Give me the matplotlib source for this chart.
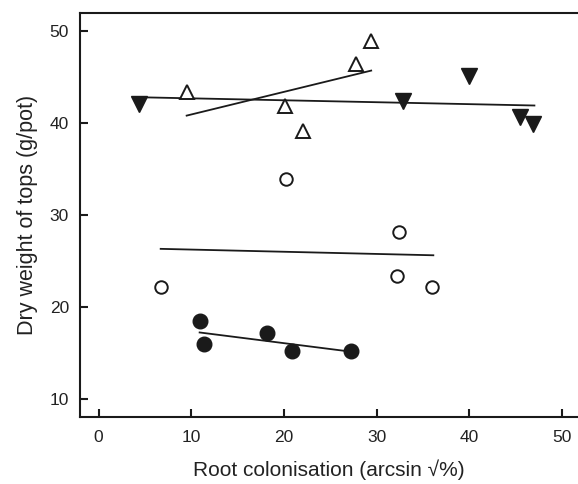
import numpy as np
import matplotlib.pyplot as plt

plt.rcParams['font.family'] = ['Liberation Sans', 'DejaVu Sans']

# filled down-triangles
tri_down_x = [4.4, 32.8, 40.0, 45.4, 46.9]
tri_down_y = [42.1, 42.4, 45.1, 40.7, 39.9]
tri_down_line_x = [4.3, 47.0]
tri_down_line_y = [42.8, 41.9]

# open up-triangles
tri_up_x = [9.5, 20.1, 22.1, 27.8, 29.4]
tri_up_y = [43.4, 41.8, 39.1, 46.4, 48.9]
tri_up_line_x = [9.5, 29.4]
tri_up_line_y = [40.8, 45.7]

# open circles
circ_open_x = [6.7, 20.2, 32.2, 32.4, 36.0]
circ_open_y = [22.2, 33.9, 23.3, 28.1, 22.1]
circ_open_line_x = [6.7, 36.1]
circ_open_line_y = [26.3, 25.6]

# filled circles
circ_fill_x = [10.9, 11.4, 18.2, 20.9, 27.2]
circ_fill_y = [18.4, 15.9, 17.1, 15.2, 15.2]
circ_fill_line_x = [10.9, 27.3]
circ_fill_line_y = [17.2, 15.1]

fig = plt.figure(figsize=(5.78, 4.84), dpi=100)
ax = fig.add_axes([80 / 578, 1 - 417 / 484, 1 - 80 / 578, (417 - 12.7) / 484])

lc = '#1a1a1a'
tc = '#222222'
ax.plot(tri_down_line_x, tri_down_line_y, color=lc, lw=1.3)
ax.plot(tri_up_line_x, tri_up_line_y, color=lc, lw=1.3)
ax.plot(circ_open_line_x, circ_open_line_y, color=lc, lw=1.3)
ax.plot(circ_fill_line_x, circ_fill_line_y, color=lc, lw=1.3)

ax.plot(tri_down_x, tri_down_y, 'v', color=lc, ms=11, ls='none')
ax.plot(tri_up_x, tri_up_y, '^', mfc='white', mec=lc, mew=1.4, ms=10, ls='none')
ax.plot(circ_open_x, circ_open_y, 'o', mfc='white', mec=lc, mew=1.4, ms=9, ls='none')
ax.plot(circ_fill_x, circ_fill_y, 'o', color=lc, ms=10.5, ls='none')

ax.set_xlim(-2, 51.7)
ax.set_ylim(8, 52)
ax.set_xticks([0, 10, 20, 30, 40, 50])
ax.set_yticks([10, 20, 30, 40, 50])
ax.spines['right'].set_visible(False)
for s in ['left', 'top', 'bottom']:
    ax.spines[s].set_linewidth(1.5)
    ax.spines[s].set_color(lc)
ax.tick_params(direction='in', length=6, width=1.5, labelsize=12.5, color=lc, labelcolor=tc)
ax.tick_params(axis='x', pad=9)
ax.tick_params(axis='y', pad=8)
ax.set_xlabel('Root colonisation (arcsin √%)', fontsize=15, labelpad=11, color=tc)
ax.set_ylabel('Dry weight of tops (g/pot)', fontsize=15.5, labelpad=8, color=tc)

fig.savefig('out.png', dpi=100)
